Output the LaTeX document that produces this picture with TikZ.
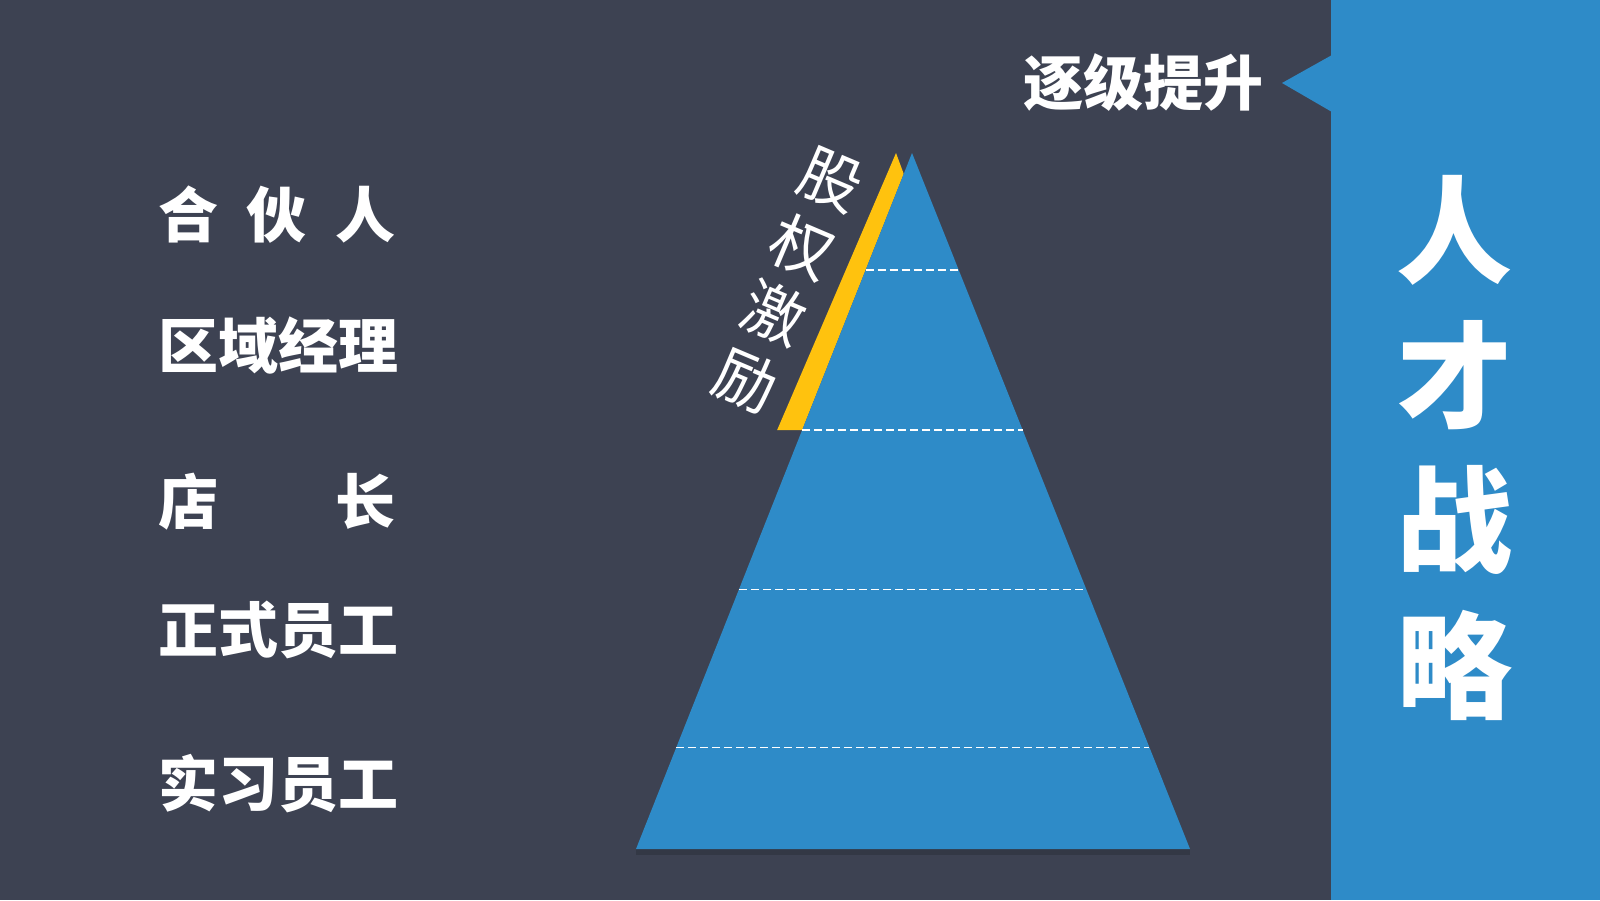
\documentclass[tikz,border=0pt]{standalone}
\usepackage{fontspec}
\newfontfamily\cjk{Noto Sans CJK SC}
\usetikzlibrary{calc}

\definecolor{bgdark}{HTML}{3D4252}
\definecolor{panelblue}{HTML}{2E8BC8}
\definecolor{stripyellow}{HTML}{FFC20E}

\tikzset{
  rank/.style={anchor=west, inner sep=0pt, text=white, font={\cjk\bfseries\fontsize{60pt}{60pt}\selectfont}},
  bigchar/.style={inner sep=0pt, text=white, font={\cjk\bfseries\fontsize{116pt}{116pt}\selectfont}},
  tiltchar/.style={inner sep=0pt, text=white, rotate=-23, font={\cjk\fontsize{62pt}{62pt}\selectfont}},
  dashline/.style={white, line width=1.5pt, dash pattern=on 8pt off 4pt},
}

\begin{document}
\begin{tikzpicture}[x=1pt, y=-1pt]
\useasboundingbox (0,0) rectangle (1600,900);
\fill[bgdark] (0,0) rectangle (1600,900);

% right panel with notch
\fill[panelblue] (1331,0) rectangle (1600,900);
\coordinate (tip) at (1282,83);
\fill[panelblue] (tip) -- (1332,55) -- (1332,112) -- cycle;
\node[inner sep=0pt, text=white, font={\cjk\bfseries\fontsize{60pt}{60pt}\selectfont}, anchor=east] (climb) at (1264,83) {逐级提升};

\foreach \ch [count=\i from 0] in {人,才,战,略}
  \node[bigchar] (title\i) at (1454, 230+145*\i) {\ch};

% pyramid
\coordinate (apex) at (912,153);
\coordinate (bl) at (636,849);
\coordinate (br) at (1190,849);
\fill[black, opacity=0.15] (bl) rectangle ($(br)+(0,6)$);
\fill[stripyellow] (896,153) -- ($(apex)!0.03!(bl)$) -- ($(apex)!0.398!(bl)$) -- ($(apex)!0.398!(bl)+(-25,0)$) -- cycle;
\fill[panelblue] (apex) -- (bl) -- (br) -- cycle;
\foreach \t in {0.168, 0.398, 0.627, 0.854}
  \draw[dashline] ($(apex)!\t!(bl)$) -- ($(apex)!\t!(br)$);

\foreach \ch [count=\i from 0] in {股,权,激,励}
  \node[tiltchar] (equity\i) at (831-28.5*\i, 180+66.7*\i) {\ch};

% levels
\node[rank] (partner) at (158,215) {\makebox[237pt][s]{合\hfill 伙\hfill 人}};
\node[rank] (region) at (158,345) {\makebox[237pt][s]{区\hfill 域\hfill 经\hfill 理}};
\node[rank] (store) at (158,502) {\makebox[237pt][s]{店\hfill 长}};
\node[rank] (staff) at (158,630) {\makebox[237pt][s]{正\hfill 式\hfill 员\hfill 工}};
\node[rank] (intern) at (158,784) {\makebox[237pt][s]{实\hfill 习\hfill 员\hfill 工}};

\end{tikzpicture}
\end{document}
